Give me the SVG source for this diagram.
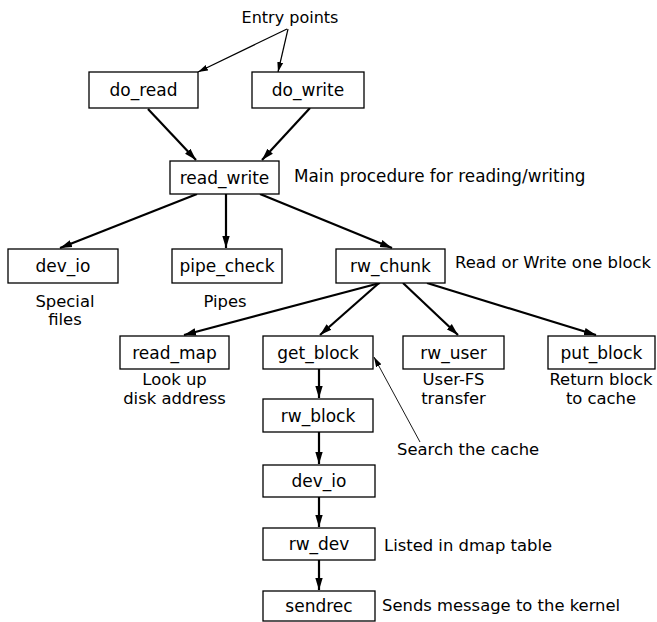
<svg xmlns="http://www.w3.org/2000/svg" width="657" height="622" viewBox="0 0 657 622">
<defs>
<style>
text{font-family:"DejaVu Sans","Liberation Sans",sans-serif;font-size:16.4px;fill:#000}
.c{text-anchor:middle}
.b{font-size:17px}
rect{fill:#fff;stroke:#000;stroke-width:1.3}
.thick{stroke:#000;stroke-width:2.2;fill:none}
.thin{stroke:#000;stroke-width:1.2;fill:none}
.hair{stroke:#000;stroke-width:0.9;fill:none}
</style>
<marker id="ah" markerUnits="userSpaceOnUse" markerWidth="13" markerHeight="9" refX="12" refY="4.5" orient="auto"><path d="M0,0.8 L12,4.5 L0,8.2 z" fill="#000"/></marker>
<marker id="as" markerUnits="userSpaceOnUse" markerWidth="11" markerHeight="8" refX="10" refY="4" orient="auto"><path d="M0,1 L10,4 L0,7 z" fill="#000"/></marker>
</defs>
<rect x="0" y="0" width="657" height="622" style="fill:#fff;stroke:none"/>
<text class="c" x="290" y="23" style="font-size:16px">Entry points</text>
<g id="connectors">
<line class="thin" x1="287" y1="29" x2="198" y2="72" marker-end="url(#as)"/>
<line class="thin" x1="288" y1="29" x2="278" y2="72" marker-end="url(#as)"/>
<line class="thick" x1="148" y1="109" x2="196" y2="160" marker-end="url(#ah)"/>
<line class="thick" x1="310" y1="108" x2="262" y2="160" marker-end="url(#ah)"/>
<line class="thick" x1="197" y1="194" x2="60" y2="248" marker-end="url(#ah)"/>
<line class="thick" x1="226" y1="194" x2="226" y2="248" marker-end="url(#ah)"/>
<line class="thick" x1="260" y1="194" x2="392" y2="248" marker-end="url(#ah)"/>
<line class="thick" x1="380" y1="283" x2="184" y2="335" marker-end="url(#ah)"/>
<line class="thick" x1="379" y1="283" x2="320" y2="335" marker-end="url(#ah)"/>
<line class="thick" x1="403" y1="283" x2="458" y2="335" marker-end="url(#ah)"/>
<line class="thick" x1="427" y1="283" x2="596" y2="335" marker-end="url(#ah)"/>
<line class="thick" x1="319" y1="369" x2="319" y2="398" marker-end="url(#ah)"/>
<line class="thick" x1="319" y1="432" x2="319" y2="464" marker-end="url(#ah)"/>
<line class="thick" x1="319" y1="497" x2="319" y2="527" marker-end="url(#ah)"/>
<line class="thick" x1="319" y1="560" x2="319" y2="590" marker-end="url(#ah)"/>
<line class="hair" x1="420" y1="442" x2="374" y2="357" marker-end="url(#as)"/>
</g>
<g id="do_read"><rect x="89" y="72" width="109" height="36"/><text class="c b" x="143.5" y="96">do_read</text></g>
<g id="do_write"><rect x="252" y="72" width="112" height="36"/><text class="c b" x="308" y="96">do_write</text></g>
<g id="read_write"><rect x="170" y="161" width="109" height="33"/><text class="c b" x="224.5" y="183.5">read_write</text><text x="294" y="182" style="font-size:16.8px">Main procedure for reading/writing</text></g>
<g id="dev_io"><rect x="8" y="249" width="110" height="34"/><text class="c b" x="63" y="272">dev_io</text><text class="c" x="65" y="307">Special</text><text class="c" x="65" y="325">files</text></g>
<g id="pipe_check"><rect x="172" y="249" width="110" height="34"/><text class="c b" x="227" y="272">pipe_check</text><text class="c" x="225" y="307">Pipes</text></g>
<g id="rw_chunk"><rect x="336" y="249" width="109" height="34"/><text class="c b" x="390.5" y="272">rw_chunk</text><text x="455" y="268">Read or Write one block</text></g>
<g id="read_map"><rect x="120" y="336" width="109" height="33"/><text class="c b" x="174.5" y="358.5">read_map</text><text class="c" x="174.5" y="385">Look up</text><text class="c" x="174.5" y="404">disk address</text></g>
<g id="get_block"><rect x="263" y="336" width="110" height="33"/><text class="c b" x="318" y="358.5">get_block</text></g>
<g id="rw_user"><rect x="403" y="336" width="101" height="33"/><text class="c b" x="453.5" y="358.5">rw_user</text><text class="c" x="453.5" y="385">User-FS</text><text class="c" x="453.5" y="404">transfer</text></g>
<g id="put_block"><rect x="548" y="336" width="107" height="33"/><text class="c b" x="601.5" y="358.5">put_block</text><text class="c" x="601" y="385">Return block</text><text class="c" x="601" y="404">to cache</text></g>
<g id="rw_block"><rect x="263" y="399" width="110" height="33"/><text class="c b" x="318" y="421.5">rw_block</text><text x="397" y="455">Search the cache</text></g>
<g id="dev_io_2"><rect x="263" y="465" width="112" height="32"/><text class="c b" x="319" y="487">dev_io</text></g>
<g id="rw_dev"><rect x="263" y="528" width="112" height="32"/><text class="c b" x="319" y="550">rw_dev</text><text x="384" y="551">Listed in dmap table</text></g>
<g id="sendrec"><rect x="263" y="591" width="112" height="30"/><text class="c b" x="319" y="612">sendrec</text><text x="382" y="611">Sends message to the kernel</text></g>
</svg>
